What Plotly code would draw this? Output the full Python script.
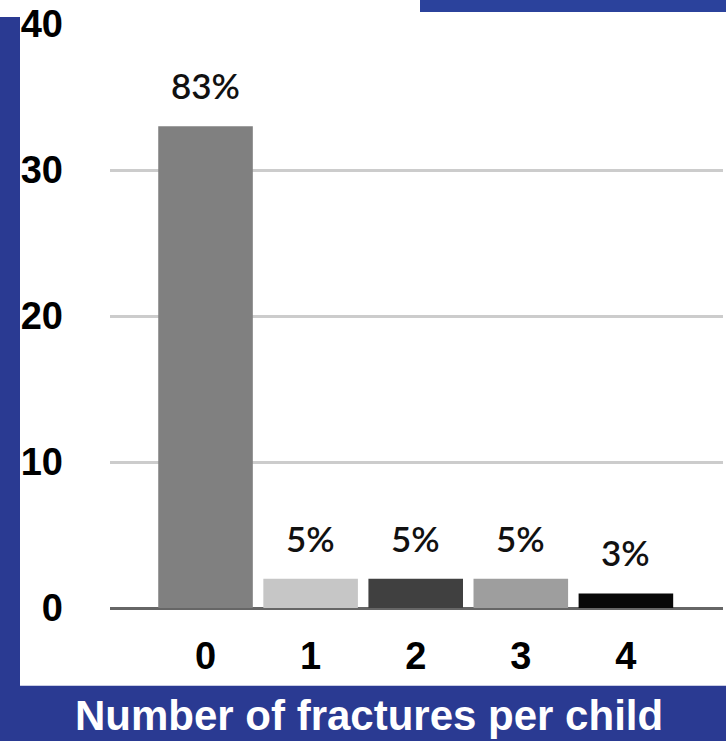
import plotly.graph_objects as go

# Data
categories = [0, 1, 2, 3, 4]
cat_labels = ["0", "1", "2", "3", "4"]
children = [33, 2, 2, 2, 1]
pct_labels = ["83%", "5%", "5%", "5%", "3%"]
bar_colors = ["#808080", "#c6c6c6", "#404040", "#9e9e9e", "#080808"]
y_ticks = [0, 10, 20, 30, 40]
title_text = "Number of fractures per child"

W, H = 726, 741
L, R, T, B = 110, 3, 22, 133
pw = W - L - R
ph = H - T - B

def px_x(p):
    return (p - L) / pw

def px_y(p):
    return (H - B - p) / ph

fig = go.Figure()
fig.add_trace(go.Bar(
    x=categories, y=children, width=0.9,
    marker=dict(color=bar_colors, line=dict(width=0)),
    hoverinfo="skip",
))

for c, v, t in zip(categories, children, pct_labels):
    fig.add_annotation(x=c, y=v, text=t, showarrow=False, xref="x", yref="y",
                       yanchor="bottom", yshift=18,
                       font=dict(family="Lato", size=35, color="#111111", weight=600))

fig.add_annotation(x=px_x(369), y=px_y(716), xref="paper", yref="paper",
                   text="<b>" + title_text + "</b>", showarrow=False,
                   xanchor="center", yanchor="middle",
                   font=dict(family="Liberation Sans", size=42, color="white"))

shapes = [
    dict(type="rect", xref="paper", yref="paper", layer="below",
         x0=px_x(20), x1=px_x(730), y0=px_y(686), y1=px_y(-5),
         fillcolor="white", line=dict(width=0)),
    dict(type="rect", xref="paper", yref="paper", layer="below",
         x0=px_x(-5), x1=px_x(21), y0=px_y(15), y1=px_y(-5),
         fillcolor="white", line=dict(width=0)),
    dict(type="rect", xref="paper", yref="paper", layer="below",
         x0=px_x(420), x1=px_x(730), y0=px_y(10), y1=px_y(-5),
         fillcolor="#2b429c", line=dict(width=0)),
]

fig.update_layout(
    width=W, height=H,
    margin=dict(l=L, r=R, t=T, b=B, pad=0),
    paper_bgcolor="#2a3a92",
    plot_bgcolor="rgba(0,0,0,0)",
    showlegend=False,
    shapes=shapes,
    bargap=0.1,
)
fig.update_xaxes(
    range=[-0.909, 4.924], tickvals=categories, ticktext=cat_labels,
    showgrid=False, zeroline=False, showline=False, ticks="",
    ticklabelstandoff=22,
    tickfont=dict(family="Liberation Sans", size=38, color="black", weight="bold"),
)
fig.update_yaxes(
    range=[0, 40], tickvals=y_ticks, ticks="",
    showgrid=True, gridcolor="#cccccc", gridwidth=3,
    zeroline=True, zerolinecolor="#666666", zerolinewidth=3,
    showline=False, ticklabelstandoff=46,
    tickfont=dict(family="Liberation Sans", size=38, color="black", weight="bold"),
)

fig.write_html("out.html", config={"displayModeBar": False},
               post_script="document.body.style.margin='0px';")
